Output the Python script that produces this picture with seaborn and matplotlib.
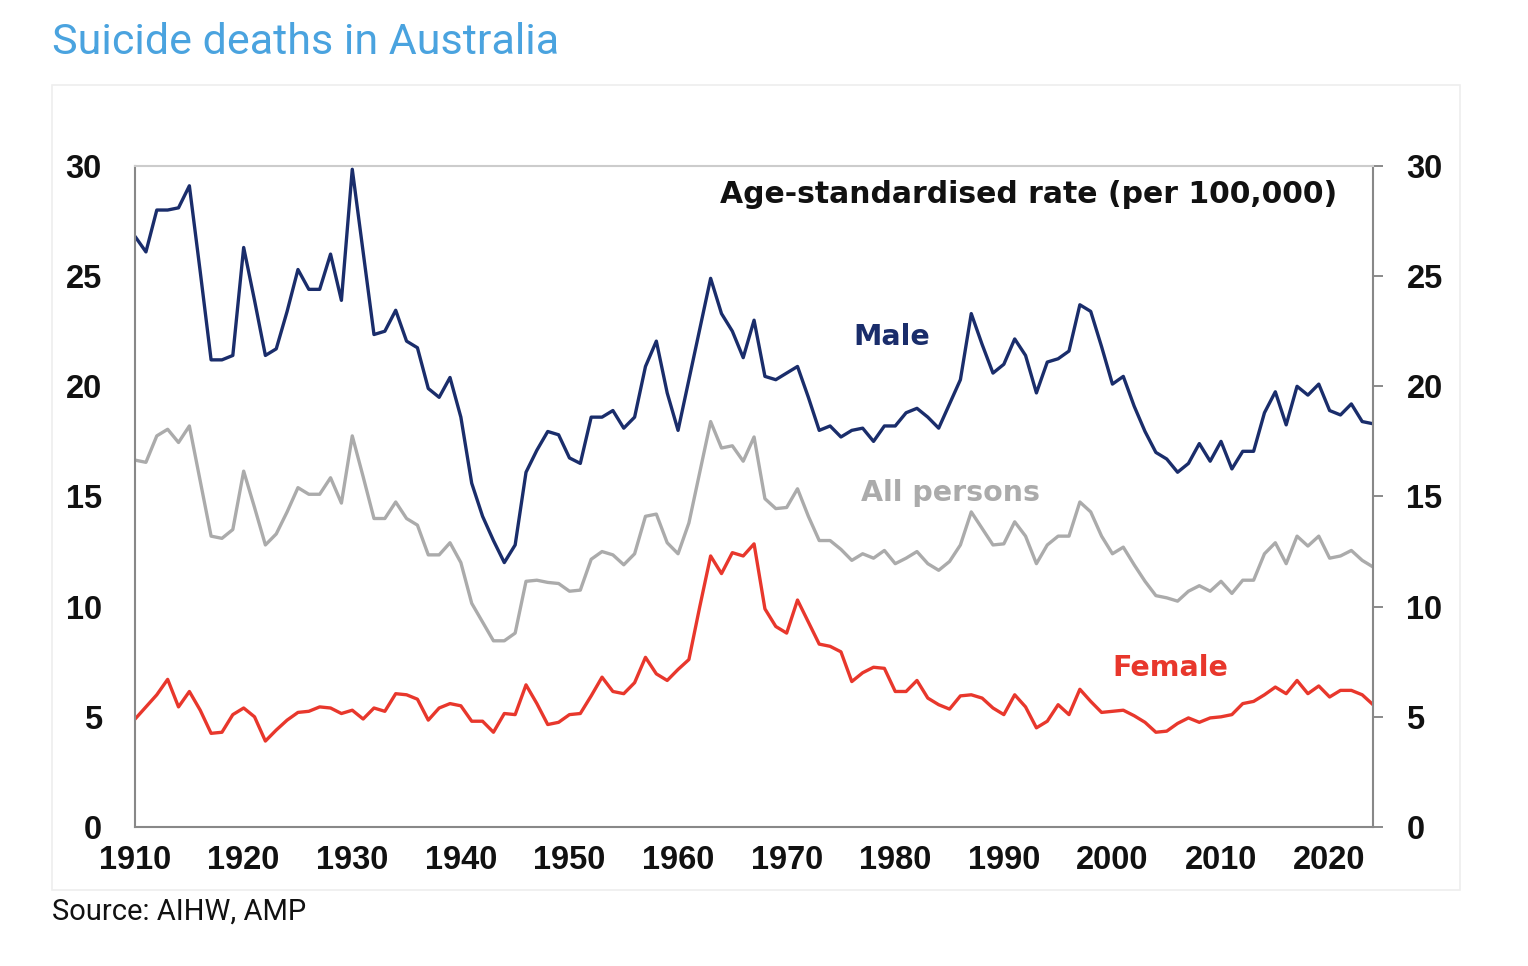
import numpy as np
import pandas as pd
import seaborn as sns
import matplotlib.pyplot as plt
from matplotlib.patches import Rectangle

years = list(range(1910, 2025))

male = [
    26.8, 26.1, 28.0, 28.0, 28.1, 29.1, 25.2, 21.2, 21.2, 21.4,
    26.3, 23.9, 21.4, 21.7, 23.4, 25.3, 24.4, 24.4, 26.0, 23.9,
    29.85, 26.1, 22.35, 22.5, 23.45, 22.05, 21.75, 19.9, 19.5, 20.4,
    18.6, 15.6, 14.1, 13.0, 12.0, 12.8, 16.1, 17.1, 17.95, 17.8,
    16.75, 16.5, 18.6, 18.6, 18.9, 18.1, 18.6, 20.9, 22.05, 19.7,
    18.0, 20.3, 22.6, 24.9, 23.3, 22.5, 21.3, 23.0, 20.45, 20.3,
    20.6, 20.9, 19.5, 18.0, 18.2, 17.7, 18.0, 18.1, 17.5, 18.2,
    18.2, 18.8, 19.0, 18.6, 18.1, 19.2, 20.3, 23.3, 21.9, 20.6,
    21.0, 22.15, 21.4, 19.7, 21.1, 21.25, 21.6, 23.7, 23.4, 21.8,
    20.1, 20.45, 19.1, 17.95, 17.0, 16.7, 16.1, 16.5, 17.4, 16.6,
    17.5, 16.25, 17.05, 17.05, 18.8, 19.75, 18.25, 20.0, 19.6, 20.1,
    18.9, 18.7, 19.2, 18.4, 18.3,
]

all_persons = [
    16.65, 16.55, 17.75, 18.05, 17.45, 18.2, 15.7, 13.2, 13.1, 13.5,
    16.15, 14.5, 12.8, 13.3, 14.3, 15.4, 15.1, 15.1, 15.85, 14.7,
    17.75, 15.9, 14.0, 14.0, 14.75, 14.0, 13.7, 12.35, 12.35, 12.9,
    12.0, 10.15, 9.3, 8.45, 8.45, 8.8, 11.15, 11.2, 11.1, 11.05,
    10.7, 10.75, 12.15, 12.5, 12.35, 11.9, 12.4, 14.1, 14.2, 12.9,
    12.4, 13.8, 16.1, 18.4, 17.2, 17.3, 16.6, 17.7, 14.9, 14.45,
    14.5, 15.35, 14.1, 13.0, 13.0, 12.6, 12.1, 12.4, 12.2, 12.55,
    11.95, 12.2, 12.5, 11.95, 11.65, 12.05, 12.8, 14.3, 13.55, 12.8,
    12.85, 13.85, 13.2, 11.95, 12.8, 13.2, 13.2, 14.75, 14.3, 13.2,
    12.4, 12.7, 11.9, 11.15, 10.5, 10.4, 10.25, 10.7, 10.95, 10.7,
    11.15, 10.6, 11.2, 11.2, 12.4, 12.9, 11.95, 13.2, 12.75, 13.2,
    12.2, 12.3, 12.55, 12.1, 11.8,
]

female = [
    4.9, 5.45, 6.0, 6.7, 5.45, 6.15, 5.3, 4.25, 4.3, 5.1,
    5.4, 5.0, 3.9, 4.4, 4.85, 5.2, 5.25, 5.45, 5.4, 5.15,
    5.3, 4.9, 5.4, 5.25, 6.05, 6.0, 5.8, 4.85, 5.4, 5.6,
    5.5, 4.8, 4.8, 4.3, 5.15, 5.1, 6.45, 5.6, 4.65, 4.75,
    5.1, 5.15, 5.95, 6.8, 6.15, 6.05, 6.55, 7.7, 6.95, 6.65,
    7.15, 7.6, 10.0, 12.3, 11.5, 12.45, 12.3, 12.85, 9.9, 9.1,
    8.8, 10.3, 9.3, 8.3, 8.2, 7.95, 6.6, 7.0, 7.25, 7.2,
    6.15, 6.15, 6.65, 5.85, 5.55, 5.35, 5.95, 6.0, 5.85, 5.4,
    5.1, 6.0, 5.45, 4.5, 4.8, 5.55, 5.1, 6.25, 5.7, 5.2,
    5.25, 5.3, 5.05, 4.75, 4.3, 4.35, 4.7, 4.95, 4.75, 4.95,
    5.0, 5.1, 5.6, 5.7, 6.0, 6.35, 6.05, 6.65, 6.05, 6.4,
    5.9, 6.2, 6.2, 6.0, 5.55,
]

series_names = ["Male", "All persons", "Female"]
colors = {"Male": "#1a2d6b", "All persons": "#ababab", "Female": "#e8372c"}
x_ticks = list(range(1910, 2021, 10))
y_ticks = [0, 5, 10, 15, 20, 25, 30]

df = pd.concat(
    [
        pd.DataFrame({"Year": years, "Rate": vals, "Series": name})
        for name, vals in zip(series_names, [male, all_persons, female])
    ],
    ignore_index=True,
)

sns.set_style("white")
plt.rcParams["font.family"] = ["Liberation Sans", "DejaVu Sans"]

fig = plt.figure(figsize=(15.28, 9.66), dpi=100)
ax = fig.add_axes([0.0884, 0.1439, 0.8102, 0.6843])

sns.lineplot(
    data=df, x="Year", y="Rate", hue="Series", hue_order=series_names,
    palette=colors, linewidth=2.4, legend=False, ax=ax,
)

ax.set_xlim(1910, 2024)
ax.set_ylim(0, 30)
ax.set_xticks(x_ticks)
ax.set_yticks(y_ticks)
ax.set_xlabel("")
ax.set_ylabel("")
ax.tick_params(axis="both", direction="out", length=7, width=1.2,
               color="#777777", labelsize=23.5, labelcolor="#111111")
ax.tick_params(axis="y", right=True, labelright=True, pad=17)
ax.tick_params(axis="x", pad=6)
for lab in ax.get_xticklabels() + ax.get_yticklabels():
    lab.set_fontweight("bold")
for t in ax.yaxis.get_major_ticks():
    t.label2.set_fontweight("bold")

for side in ["left", "right", "bottom"]:
    ax.spines[side].set_color("#888888")
    ax.spines[side].set_linewidth(1.5)
ax.spines["top"].set_color("#cccccc")
ax.spines["top"].set_linewidth(1.5)

lab_font = ["DejaVu Sans"]
ax.text(1992.3, 28.7, "Age-standardised rate (per 100,000)", fontsize=21.5,
        fontweight="bold", color="#111111", ha="center", va="center",
        family=lab_font)
ax.text(1979.7, 22.26, "Male", fontsize=20.5, fontweight="bold",
        color=colors["Male"], ha="center", va="center", family=lab_font)
ax.text(1985.1, 15.17, "All persons", fontsize=20.5, fontweight="bold",
        color=colors["All persons"], ha="center", va="center",
        family=lab_font)
ax.text(2005.3, 7.21, "Female", fontsize=20.5, fontweight="bold",
        color=colors["Female"], ha="center", va="center", family=lab_font)

# light frame around the chart image
fig.patches.append(Rectangle((52 / 1528, 1 - 890 / 966), (1460 - 52) / 1528,
                             (890 - 85) / 966, transform=fig.transFigure,
                             fill=False, edgecolor="#eeeeee", linewidth=1.2))

fig.text(52 / 1528, 1 - 42 / 966, "Suicide deaths in Australia",
         fontsize=31, color="#4aa3df", family="Roboto", va="center", ha="left")
fig.text(52 / 1528, 1 - 912 / 966, "Source: AIHW, AMP", fontsize=21,
         color="#111111", family="Roboto", va="center", ha="left")

fig.savefig("out.png", dpi=100, facecolor="white")
